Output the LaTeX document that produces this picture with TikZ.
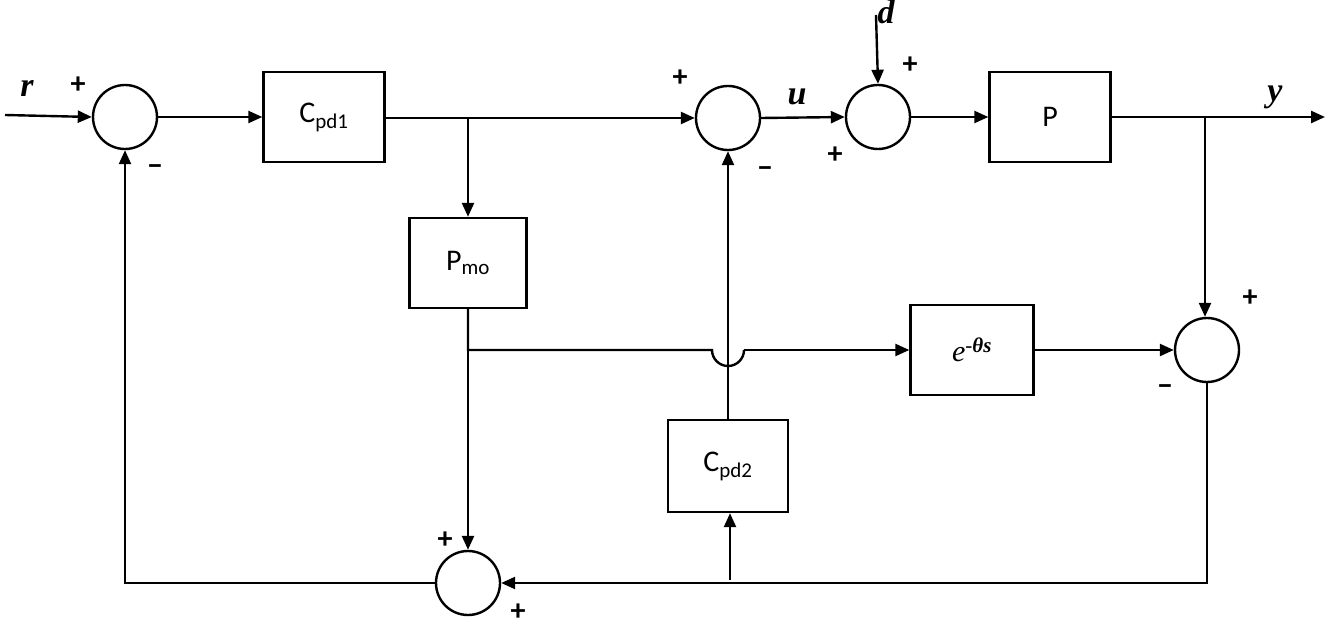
\documentclass[tikz,border=0pt]{standalone}
\usepackage{fontspec}
\setmainfont{Carlito}
\newfontfamily\serifit{Liberation Serif}
\usetikzlibrary{arrows.meta}
\begin{document}
\begin{tikzpicture}[x=1pt,y=-1pt,line width=2.4pt,
  sum/.style={circle,draw,minimum size=64pt,inner sep=0pt},
  blk/.style={draw,minimum width=121pt,minimum height=90pt,font=\fontsize{30}{32}\selectfont},
  arr/.style={-{Triangle[length=14pt,width=12pt]}},
  sg/.style={font=\fontsize{30}{32}\selectfont\bfseries},
  vl/.style={font=\fontsize{34}{36}\selectfont\serifit\bfseries\itshape}]
\useasboundingbox (0,0) rectangle (1328,628);
\node[sum] (s1) at (125,117) {};
\node[blk] (c1) at (324,117) {C\textsubscript{pd1}};
\node[sum] (s2) at (728,118) {};
\node[sum] (s3) at (878,117) {};
\node[blk] (p) at (1050,117) {P};
\node[blk,minimum width=117pt] (pm) at (468,263) {P\textsubscript{mo}};
\node[blk,minimum width=123pt] (e) at (972,350) {\serifit\itshape e\textsuperscript{-\textbf{θs}}};
\node[sum] (s4) at (1207,350) {};
\node[blk,minimum width=120pt,minimum height=92pt] (c2) at (728,466) {C\textsubscript{pd2}};
\node[sum] (s5) at (468,583) {};
\coordinate (rin) at (5,115);
\coordinate (din) at (876,15);
\coordinate (yout) at (1325,117);
\coordinate (b1) at (468,117);
\coordinate (b2) at (1205,117);
\coordinate (b3) at (468,350);
\coordinate (b4) at (730,580);
\draw[arr] (rin) -- (s1.west);
\draw[arr] (s1.east) -- (c1.west |- s1.east);
\draw[arr] (c1.east |- s2.west) -- (s2.west);
\draw[arr] (b1) -- (pm.north);
\draw[arr] (s2.east) -- (s3.west);
\draw[arr] (din) -- (s3.north);
\draw[arr] (s3.east) -- (p.west |- s3.east);
\draw[arr] (p.east) -- (yout);
\draw[arr] (b2) -- (s4.north -| b2);
\draw (pm.south) -- (b3) -- (712,350) arc[start angle=180,end angle=0,radius=16];
\draw[arr] (744,350) -- (e.west);
\draw[arr] (e.east) -- (s4.west);
\draw[arr] (b3) -- (s5.north);
\draw[arr] (s4.south) |- (s5.east);
\draw[arr] (b4) -- (c2.south -| b4);
\draw[arr] (c2.north) -- (s2.south);
\draw[arr] (s5.west) -| (s1.south);
\node[vl] at (27,88) {r};
\node[vl] at (797,97) {u};
\node[vl] at (886,12) {d};
\node[vl] at (1275,97) {y};
\node[sg] at (78,85) {+};
\node[sg] at (155,170) {\textminus};
\node[sg] at (680,78) {+};
\node[sg] at (765,172) {\textminus};
\node[sg] at (910,65) {+};
\node[sg] at (835,155) {+};
\node[sg] at (1250,298) {+};
\node[sg] at (1165,390) {\textminus};
\node[sg] at (445,540) {+};
\node[sg] at (518,612) {+};
\end{tikzpicture}
\end{document}
